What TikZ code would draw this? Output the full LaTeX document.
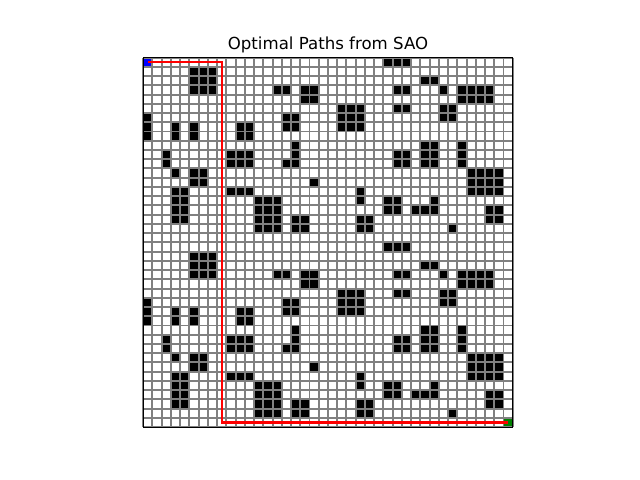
\documentclass[tikz,border=0pt]{standalone}
\usepackage{fontspec}
\setmainfont{DejaVu Sans}
\definecolor{mapgray}{HTML}{808080}
\definecolor{mapgreen}{HTML}{008000}

\begin{document}
\begin{tikzpicture}[x=0.0254cm, y=-0.0254cm, font=\fontsize{12}{14}\selectfont,
    cellgrid/.style={draw=mapgray, line width=1.4pt},
    obstacle/.style={fill=black},
    route/.style={draw=red, line width=1.5pt},
    frame/.style={draw=black, line width=0.8pt}]
  \useasboundingbox (0,0) rectangle (640,480);
  \fill[white] (0,0) rectangle (640,480);
  \node[anchor=base] (title) at (328,49.3) {Optimal Paths from SAO};
  \begin{scope}[shift={(143.2,57.6)}, x=0.2347cm, y=-0.2347cm]
    % obstacles, the 20-row pattern drawn twice
    \foreach \off in {0,20}
      \foreach \r/\cl in {0/{26,27,28}, 1/{5,6,7}, 2/{5,6,7,30,31},
          3/{5,6,7,14,15,17,18,27,28,32,34,35,36,37}, 4/{17,18,34,35,36,37},
          5/{21,22,23,27,28,32,33}, 6/{0,15,16,21,22,23,32,33},
          7/{0,3,5,10,11,15,16,21,22,23}, 8/{0,3,5,10,11}, 9/{16,30,31,34},
          10/{2,9,10,11,16,27,28,30,31,34}, 11/{2,9,10,11,15,16,27,28,30,31,34},
          12/{3,5,6,35,36,37,38}, 13/{5,6,18,35,36,37,38},
          14/{3,4,9,10,11,23,35,36,37,38}, 15/{3,4,12,13,14,23,26,27,31},
          16/{3,4,12,13,14,26,27,29,30,31,37,38},
          17/{3,4,12,13,14,16,17,23,24,37,38}, 18/{12,13,14,16,17,23,24,33}}
        \foreach \c in \cl
          \fill[obstacle] (\c,\r+\off) rectangle ++(1,1);
    % start and goal
    \fill[blue] (0,0) rectangle (1,1);
    \fill[mapgreen] (39,39) rectangle (40,40);
    \foreach \i in {0,...,40} {
      \draw[cellgrid] (\i,0) -- (\i,40);
      \draw[cellgrid] (0,\i) -- (40,\i);
    }
    \coordinate (start) at (0.5,0.5);
    \coordinate (turn) at (8.5,0.5);
    \coordinate (drop) at (8.5,39.5);
    \coordinate (goal) at (39.5,39.5);
    \draw[route] (start) -- (turn) -- (drop) -- (goal);
    \draw[frame] (0,0) rectangle (40,40);
  \end{scope}
\end{tikzpicture}
\end{document}
